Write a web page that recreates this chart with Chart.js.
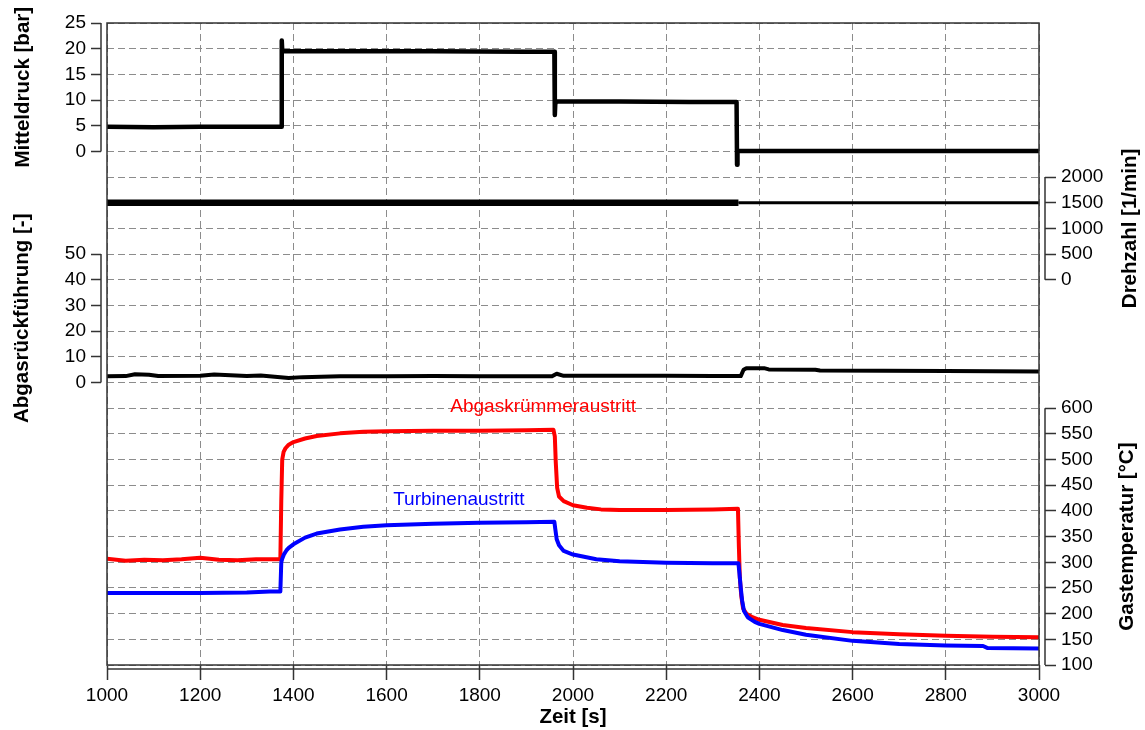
<!DOCTYPE html>
<html>
<head>
<meta charset="utf-8">
<script src="https://cdn.jsdelivr.net/npm/chart.js@4.4.1/dist/chart.umd.min.js"></script>
<style>
  html, body { margin: 0; padding: 0; background: #fff; }
  canvas { display: block; }
</style>
</head>
<body>
<canvas id="chart" width="1145" height="730"></canvas>
<script>
// Achsenbeschriftungen (Ticks)
const xTicks = [1000, 1200, 1400, 1600, 1800, 2000, 2200, 2400, 2600, 2800, 3000];
const pTicks = [0, 5, 10, 15, 20, 25];
const egrTicks = [0, 10, 20, 30, 40, 50];
const nTicks = [0, 500, 1000, 1500, 2000];
const tTicks = [100, 150, 200, 250, 300, 350, 400, 450, 500, 550, 600];

// Mitteldruck [bar]
const pTime = [1000, 1100, 1200, 1300, 1374, 1375, 1376, 1378, 1500, 1700, 1900, 1960, 1961, 1962, 1963, 2100, 2250, 2351, 2352, 2353, 2355, 2600, 2800, 3000];
const pValue = [4.8, 4.7, 4.8, 4.8, 4.8, 21.6, 19.7, 19.5, 19.5, 19.5, 19.4, 19.4, 7.1, 9.4, 9.7, 9.7, 9.6, 9.6, -2.6, 0.0, 0.1, 0.1, 0.1, 0.1];

// Drehzahl [1/min]
const nTime = [1000, 1700, 2355, 2700, 3000];
const nValue = [1500, 1500, 1500, 1500, 1500];

// Abgasrückführung [-]
const egrTime = [1000, 1040, 1060, 1090, 1110, 1200, 1230, 1300, 1330, 1390, 1420, 1500, 1600, 1700, 1800, 1900, 1955, 1965, 1980, 2100, 2200, 2300, 2360, 2366, 2372, 2410, 2420, 2520, 2530, 2800, 3000];
const egrValue = [2.4, 2.5, 3.2, 3.0, 2.5, 2.6, 3.1, 2.5, 2.7, 1.8, 2.1, 2.4, 2.4, 2.5, 2.4, 2.4, 2.4, 3.4, 2.6, 2.6, 2.6, 2.5, 2.5, 5.0, 5.6, 5.6, 5.1, 5.0, 4.7, 4.5, 4.3];

// Gastemperatur Abgaskrümmeraustritt [°C]
const tkTime = [1000, 1040, 1080, 1120, 1160, 1200, 1240, 1280, 1320, 1372, 1374, 1376, 1379, 1383, 1390, 1400, 1425, 1450, 1500, 1550, 1600, 1700, 1800, 1900, 1958, 1961, 1963, 1966, 1970, 1980, 2000, 2030, 2060, 2100, 2200, 2300, 2354, 2356, 2358, 2361, 2365, 2372, 2385, 2400, 2450, 2500, 2600, 2700, 2800, 2900, 3000];
const tkValue = [307, 303, 305, 304, 306, 309, 305, 304, 306, 306, 420, 500, 515, 522, 529, 534, 541, 546, 551, 554, 555, 556, 556, 557, 558, 545, 495, 445, 428, 419, 411, 406, 403, 402, 402, 403, 404, 330, 270, 235, 210, 200, 193, 188, 178, 172, 164, 160, 157, 155, 154];

// Gastemperatur Turbinenaustritt [°C]
const ttTime = [1000, 1100, 1200, 1300, 1350, 1372, 1374, 1376, 1380, 1385, 1390, 1400, 1425, 1450, 1500, 1550, 1600, 1700, 1800, 1900, 1960, 1962, 1965, 1970, 1980, 2000, 2050, 2100, 2200, 2300, 2355, 2357, 2360, 2363, 2367, 2375, 2390, 2400, 2450, 2500, 2600, 2700, 2800, 2880, 2890, 3000];
const ttValue = [240, 240, 240, 241, 243, 243, 300, 307, 316, 323, 328, 335, 348, 356, 364, 369, 372, 375, 377, 378, 379, 365, 345, 333, 322, 315, 306, 302, 299, 298, 298, 280, 250, 225, 205, 193, 184, 180, 168, 159, 147, 141, 138, 137, 133, 132];

// Beschriftung der Kurven (Position in Achswerten)
const curveLabels = ["Abgaskrümmeraustritt", "Turbinenaustritt"];
const curveLabelX = [1936, 1755];
const curveLabelY = [603, 422];
const curveLabelColor = ["#ff0000", "#0000ff"];

const FONT = "'Liberation Sans', Arial, Helvetica, sans-serif";
Chart.defaults.font.family = FONT;
Chart.defaults.color = "#000";

function toPoints(xs, ys) {
  return xs.map((x, i) => ({ x, y: ys[i] }));
}

// gestapelte Skala, Ticks nur im eigenen Wertebereich
function sideAxis(position, stack, stackWeight, width, min, max, ticks, title) {
  return {
    type: "linear",
    position,
    stack,
    stackWeight,
    weight: 1,
    min,
    max,
    title: { display: false, text: title },
    afterBuildTicks: (s) => {
      s.ticks = ticks.map((v) => ({ value: v }));
    },
    afterFit: (s) => {
      s.width = width;
    },
    ticks: {
      font: { size: 19 },
      color: "#000",
      padding: 5,
      autoSkip: false,
      callback: (v) => String(v),
    },
    grid: {
      drawOnChartArea: false,
      drawTicks: true,
      tickLength: position === "left" ? 10 : 11,
      tickColor: "#333",
      tickWidth: 1.5,
      color: "#333",
      tickBorderDash: [],
    },
    border: { display: false },
  };
}

// Rahmen, Achslinien, Kurvenbeschriftung und Achstitel
const framePlugin = {
  id: "frame",
  afterDatasetsDraw(chart) {
    const { ctx, chartArea: a, scales } = chart;
    ctx.save();
    ctx.strokeStyle = "#333";
    ctx.lineWidth = 1.5;
    ctx.strokeRect(a.left, a.top, a.right - a.left, a.bottom - a.top);

    const brackets = [
      ["p", pTicks],
      ["egr", egrTicks],
      ["n", nTicks],
      ["t", tTicks],
    ];
    brackets.forEach(([id, ticks]) => {
      const s = scales[id];
      const x = s.position === "left" ? s.right : s.left;
      ctx.beginPath();
      ctx.moveTo(x, s.getPixelForValue(ticks[0]));
      ctx.lineTo(x, s.getPixelForValue(ticks[ticks.length - 1]));
      ctx.stroke();
    });

    const xs = scales.x;
    const y = xs.top + 4;
    ctx.beginPath();
    ctx.moveTo(xs.getPixelForValue(xTicks[0]), y);
    ctx.lineTo(xs.getPixelForValue(xTicks[xTicks.length - 1]), y);
    ctx.stroke();

    ctx.font = "19px " + FONT;
    ctx.textAlign = "center";
    ctx.textBaseline = "middle";
    curveLabels.forEach((txt, i) => {
      ctx.fillStyle = curveLabelColor[i];
      ctx.fillText(
        txt,
        xs.getPixelForValue(curveLabelX[i]),
        scales.t.getPixelForValue(curveLabelY[i])
      );
    });
    ctx.restore();
  },
  afterDraw(chart) {
    const { ctx, scales } = chart;
    const titleX = { p: 23, egr: 22, n: 1130, t: 1127 };
    const ranges = { p: pTicks, egr: egrTicks, n: nTicks, t: tTicks };
    ctx.save();
    ctx.font = "bold 20.5px " + FONT;
    ctx.fillStyle = "#000";
    ctx.textAlign = "center";
    ctx.textBaseline = "middle";
    Object.keys(titleX).forEach((id) => {
      const s = scales[id];
      const r = ranges[id];
      const yc = (s.getPixelForValue(r[0]) + s.getPixelForValue(r[r.length - 1])) / 2;
      ctx.save();
      ctx.translate(titleX[id], yc);
      ctx.rotate(-Math.PI / 2);
      ctx.fillText(s.options.title.text, 0, 0);
      ctx.restore();
    });
    ctx.restore();
  },
};

const gridColor = "#8c8c8c";

new Chart(document.getElementById("chart"), {
  type: "line",
  data: {
    datasets: [
      {
        label: "Mitteldruck",
        data: toPoints(pTime, pValue),
        yAxisID: "p",
        borderColor: "#000",
        borderWidth: 4.5,
      },
      {
        label: "Drehzahl",
        data: toPoints(nTime, nValue),
        yAxisID: "n",
        borderColor: "#000",
        borderWidth: 6,
        segment: {
          borderWidth: (c) => (c.p0.parsed.x < 2355 ? 6.5 : 3),
        },
      },
      {
        label: "Abgasrückführung",
        data: toPoints(egrTime, egrValue),
        yAxisID: "egr",
        borderColor: "#000",
        borderWidth: 4,
      },
      {
        label: "Turbinenaustritt",
        data: toPoints(ttTime, ttValue),
        yAxisID: "t",
        borderColor: "#0000ff",
        borderWidth: 4,
      },
      {
        label: "Abgaskrümmeraustritt",
        data: toPoints(tkTime, tkValue),
        yAxisID: "t",
        borderColor: "#ff0000",
        borderWidth: 4,
      },
    ],
  },
  options: {
    responsive: false,
    animation: false,
    devicePixelRatio: 1,
    elements: {
      point: { radius: 0 },
      line: { tension: 0, borderJoinStyle: "round", borderCapStyle: "butt" },
    },
    layout: { padding: { top: 23, left: 0, right: 0, bottom: 0 } },
    plugins: {
      legend: { display: false },
      tooltip: { enabled: false },
    },
    scales: {
      x: {
        type: "linear",
        position: "bottom",
        min: 1000,
        max: 3000,
        afterBuildTicks: (s) => {
          s.ticks = xTicks.map((v) => ({ value: v }));
        },
        afterFit: (s) => {
          s.height = 65;
        },
        ticks: {
          font: { size: 19 },
          color: "#000",
          padding: 4,
          autoSkip: false,
          maxRotation: 0,
          callback: (v) => String(v),
        },
        grid: {
          color: gridColor,
          lineWidth: 1,
          borderDash: [7, 4],
          tickColor: "#333",
          tickWidth: 1.5,
          tickLength: 15,
          tickBorderDash: [],
        },
        border: { display: false, dash: [7, 4] },
        title: {
          display: true,
          text: "Zeit [s]",
          font: { size: 20.5, weight: "bold" },
          color: "#000",
          padding: { top: 0, bottom: 0 },
        },
      },
      // links: egr vor p definiert, damit p oben im Stapel liegt
      egr: sideAxis("left", "L", 16, 101, -110, 50, egrTicks, "Abgasrückführung [-]"),
      p: sideAxis("left", "L", 9, 101, -20, 25, pTicks, "Mitteldruck [bar]"),
      g: {
        type: "linear",
        position: "left",
        weight: 0,
        min: 0,
        max: 25,
        ticks: { display: false, stepSize: 1 },
        afterFit: (s) => {
          s.width = 6;
        },
        grid: {
          color: gridColor,
          lineWidth: 1,
          borderDash: [7, 4],
          drawTicks: false,
        },
        border: { display: false, dash: [7, 4] },
      },
      sp: {
        type: "linear",
        position: "right",
        weight: 0,
        min: 0,
        max: 1,
        ticks: { display: false },
        afterFit: (s) => {
          s.width = 6;
        },
        grid: { display: false },
        border: { display: false },
      },
      n: sideAxis("right", "R", 11, 100, -500, 5000, nTicks, "Drehzahl [1/min]"),
      t: sideAxis("right", "R", 14, 100, 100, 800, tTicks, "Gastemperatur [°C]"),
    },
  },
  plugins: [framePlugin],
});
</script>
</body>
</html>
